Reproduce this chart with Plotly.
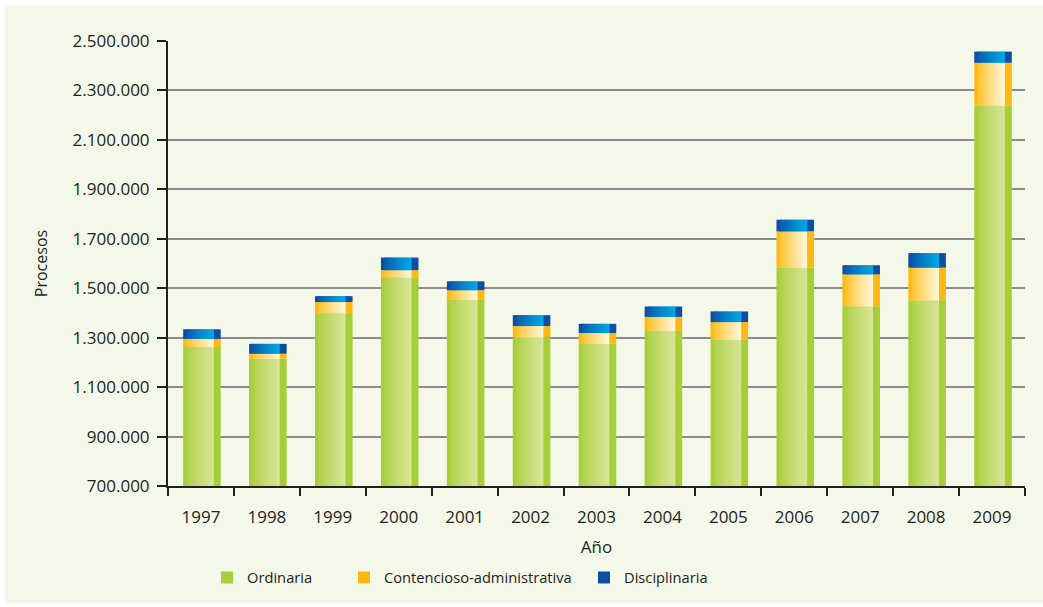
import plotly.graph_objects as go

# ---- data ----
years = ["1997", "1998", "1999", "2000", "2001", "2002", "2003",
         "2004", "2005", "2006", "2007", "2008", "2009"]
ordinaria = [1262000, 1215000, 1399000, 1544000, 1453000, 1300000, 1275000,
             1327000, 1291000, 1584000, 1427000, 1451000, 2239000]
contencioso = [33000, 20000, 45000, 29000, 39000, 47000, 44000,
               57000, 72000, 146000, 129000, 132000, 173000]
disciplinaria = [39000, 40000, 24000, 51000, 36000, 44000, 37000,
                 42000, 43000, 47000, 37000, 59000, 45000]
y_ticks = [700000, 900000, 1100000, 1300000, 1500000, 1700000, 1900000,
           2100000, 2300000, 2500000]

series_names = ["Ordinaria", "Contencioso-administrativa", "Disciplinaria"]
series_values = [ordinaria, contencioso, disciplinaria]

# ---- styling ----
BG = "#F4F8E8"
FONT = "Open Sans"
TXT = "#231F20"
grad = [("#A8CE3B", "#D6E494"), ("#FDB913", "#FFF6D2"), ("#0B4EA2", "#03A6E2")]
side = ["#A6CE39", "#FDB913", "#0D4EA2"]
N_STRIPS = 10
FRONT_OFF, FRONT_W = -0.27, 0.47
SIDE_W = 0.105

L, R, T, B = 168, 18, 41, 118
W, H = 1043, 607
pw, ph = W - L - R, H - T - B
legend_ids = ["legend", "legend2", "legend3"]
legend_left_px = [207, 344, 584]


def hex2rgb(h):
    h = h.lstrip("#")
    return tuple(int(h[i:i + 2], 16) for i in (0, 2, 4))


def mix(c1, c2, t):
    a, b = hex2rgb(c1), hex2rgb(c2)
    return "rgb(%d,%d,%d)" % tuple(round(a[i] + (b[i] - a[i]) * t) for i in range(3))


fig = go.Figure()
bases = [0] * len(years)
for s, (name, vals) in enumerate(zip(series_names, series_values)):
    sw = FRONT_W / N_STRIPS
    for i in range(N_STRIPS):
        t = (i / (N_STRIPS - 1)) ** 0.8
        wid = sw if i == N_STRIPS - 1 else sw * 1.8
        fig.add_trace(go.Bar(
            x=years, y=vals, base=list(bases),
            offset=FRONT_OFF + i * sw, width=wid,
            marker=dict(color=mix(grad[s][0], grad[s][1], t), line=dict(width=0)),
            showlegend=False, legendgroup=name, name=name, hoverinfo="skip"))
    fig.add_trace(go.Bar(
        x=years, y=vals, base=list(bases),
        offset=FRONT_OFF + FRONT_W - 0.005, width=SIDE_W,
        marker=dict(color=side[s], line=dict(width=0)),
        showlegend=True, legendgroup=name, name=name, legend=legend_ids[s]))
    bases = [b + v for b, v in zip(bases, vals)]

legend_common = dict(orientation="h", xanchor="left", yanchor="top",
                     y=(T + ph - 565) / ph, font=dict(size=14.7),
                     bgcolor="rgba(0,0,0,0)")

fig.update_layout(
    width=W, height=H,
    margin=dict(l=L, r=R, t=T, b=B),
    barmode="overlay",
    separators=",.",
    paper_bgcolor="white",
    plot_bgcolor="rgba(0,0,0,0)",
    font=dict(family=FONT, size=17, color=TXT),
    shapes=[dict(type="rect", xref="paper", yref="paper", layer="below",
                 x0=(5 - L) / pw, x1=(W - L) / pw,
                 y0=-(H - T - ph) / ph, y1=(ph + T - 5) / ph,
                 fillcolor=BG, line=dict(width=0))],
    xaxis=dict(
        type="category", range=[-0.5, 12.5], automargin=False,
        showline=True, linecolor=TXT, linewidth=2,
        ticks="outside", tickson="boundaries", ticklen=8, tickwidth=2,
        tickcolor=TXT, showgrid=False, ticklabelstandoff=15,
        title=dict(text="Año", standoff=14, font=dict(size=17)),
        tickfont=dict(size=17),
    ),
    yaxis=dict(
        range=[700000, 2500000], tickvals=y_ticks, tickformat=",d",
        automargin=False,
        showline=True, linecolor=TXT, linewidth=2,
        ticks="outside", ticklen=9, tickwidth=2, tickcolor=TXT,
        showgrid=True, gridcolor="#8C8C8C", gridwidth=2, zeroline=False,
        ticklabelstandoff=4,
        title=dict(text="Procesos", standoff=21, font=dict(size=16)),
        tickfont=dict(size=17),
    ),
    legend=dict(legend_common, x=(legend_left_px[0] - L) / pw),
    legend2=dict(legend_common, x=(legend_left_px[1] - L) / pw),
    legend3=dict(legend_common, x=(legend_left_px[2] - L) / pw),
)

fig.write_html("out.html", config={"displayModeBar": False},
               post_script="document.body.style.margin='0';")
